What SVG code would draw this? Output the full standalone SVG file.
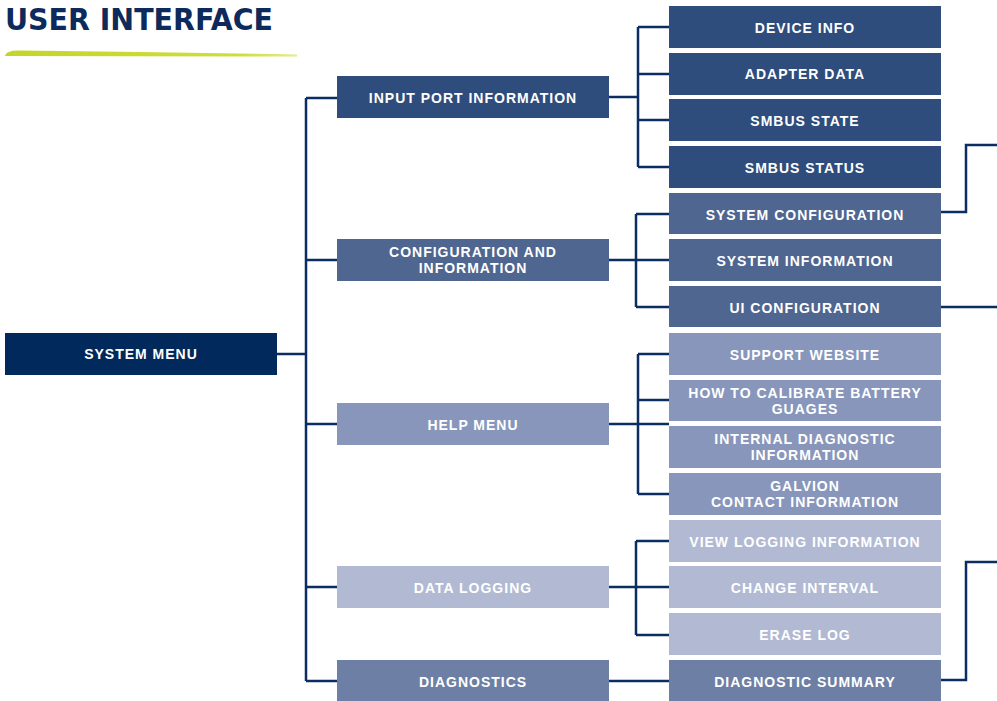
<svg xmlns="http://www.w3.org/2000/svg" width="997" height="701" viewBox="0 0 997 701">
<defs>
<linearGradient id="sw" x1="0" y1="0" x2="1" y2="0">
<stop offset="0" stop-color="#c3d52a"/>
<stop offset="0.8" stop-color="#cfdd3a"/>
<stop offset="1" stop-color="#e3eb8f"/>
</linearGradient>
</defs>
<style>
.t{font-family:"Liberation Sans",Arial,sans-serif;font-weight:700;font-size:14px;fill:#ffffff;text-anchor:middle;letter-spacing:1px}
.c{fill:none;stroke:#0b2d62;stroke-width:2.5}
.n0{fill:#01295b}
.n1{fill:#2e4d7c}
.n2{fill:#4f6690}
.n3{fill:#8896bb}
.n4{fill:#b1b9d3}
.n5{fill:#6e7fa6}
</style>
<rect width="997" height="701" fill="#ffffff"/>
<text x="5" y="29.5" font-family="'DejaVu Sans Condensed','DejaVu Sans',sans-serif" font-weight="700" font-size="31" fill="#0c2a5b" textLength="268" lengthAdjust="spacingAndGlyphs">USER INTERFACE</text>
<path d="M5,56 Q6,50 20,50.5 Q160,52 297,54.5 L297,56.5 Z" fill="url(#sw)"/>

<g id="connectors">
<path class="c" d="M277,354 H306 M306,98 V681 M306,98 H337 M306,260 H337 M306,424 H337 M306,587 H337 M306,681 H337"/>
<path class="c" d="M609,97 H638 M638,27 V167 M638,27 H669 M638,74 H669 M638,120 H669 M638,167 H669"/>
<path class="c" d="M609,260 H669 M636,214 V307 M636,214 H669 M636,307 H669"/>
<path class="c" d="M609,424 H669 M638,354 V494 M638,354 H669 M638,400 H669 M638,494 H669"/>
<path class="c" d="M609,587 H669 M636,541 V635 M636,541 H669 M636,635 H669"/>
<path class="c" d="M609,681 H669"/>
<path class="c" d="M941,212 H966 V145 H997"/>
<path class="c" d="M941,307 H997"/>
<path class="c" d="M941,680 H966 V562 H997"/>
</g>

<g id="system-menu"><rect class="n0" x="5" y="333" width="272" height="42"/><text class="t" x="141" y="359">SYSTEM MENU</text></g>

<g id="input-port-information"><rect class="n1" x="337" y="76" width="272" height="42"/><text class="t" x="473" y="102.5">INPUT PORT INFORMATION</text></g>
<g id="configuration-and-information"><rect class="n2" x="337" y="239" width="272" height="42"/><text class="t" x="473" y="257">CONFIGURATION AND<tspan x="473" dy="16.3">INFORMATION</tspan></text></g>
<g id="help-menu"><rect class="n3" x="337" y="403" width="272" height="42"/><text class="t" x="473" y="429.5">HELP MENU</text></g>
<g id="data-logging"><rect class="n4" x="337" y="566" width="272" height="42"/><text class="t" x="473" y="592.5">DATA LOGGING</text></g>
<g id="diagnostics"><rect class="n5" x="337" y="660" width="272" height="41"/><text class="t" x="473" y="686.5">DIAGNOSTICS</text></g>

<g id="device-info"><rect class="n1" x="669" y="6" width="272" height="42"/><text class="t" x="805" y="32.5">DEVICE INFO</text></g>
<g id="adapter-data"><rect class="n1" x="669" y="53" width="272" height="42"/><text class="t" x="805" y="79">ADAPTER DATA</text></g>
<g id="smbus-state"><rect class="n1" x="669" y="99" width="272" height="42"/><text class="t" x="805" y="125.5">SMBUS STATE</text></g>
<g id="smbus-status"><rect class="n1" x="669" y="146" width="272" height="42"/><text class="t" x="805" y="172.5">SMBUS STATUS</text></g>
<g id="system-configuration"><rect class="n2" x="669" y="193" width="272" height="41"/><text class="t" x="805" y="219.5">SYSTEM CONFIGURATION</text></g>
<g id="system-information"><rect class="n2" x="669" y="239" width="272" height="42"/><text class="t" x="805" y="265.5">SYSTEM INFORMATION</text></g>
<g id="ui-configuration"><rect class="n2" x="669" y="286" width="272" height="41"/><text class="t" x="805" y="312.5">UI CONFIGURATION</text></g>
<g id="support-website"><rect class="n3" x="669" y="333" width="272" height="42"/><text class="t" x="805" y="359.5">SUPPORT WEBSITE</text></g>
<g id="how-to-calibrate"><rect class="n3" x="669" y="380" width="272" height="41"/><text class="t" x="805" y="397.5">HOW TO CALIBRATE BATTERY<tspan x="805" dy="16.3">GUAGES</tspan></text></g>
<g id="internal-diagnostic"><rect class="n3" x="669" y="426" width="272" height="42"/><text class="t" x="805" y="444">INTERNAL DIAGNOSTIC<tspan x="805" dy="16.3">INFORMATION</tspan></text></g>
<g id="galvion-contact"><rect class="n3" x="669" y="473" width="272" height="42"/><text class="t" x="805" y="491">GALVION<tspan x="805" dy="16.3">CONTACT INFORMATION</tspan></text></g>
<g id="view-logging"><rect class="n4" x="669" y="520" width="272" height="42"/><text class="t" x="805" y="546.5">VIEW LOGGING INFORMATION</text></g>
<g id="change-interval"><rect class="n4" x="669" y="566" width="272" height="42"/><text class="t" x="805" y="592.5">CHANGE INTERVAL</text></g>
<g id="erase-log"><rect class="n4" x="669" y="613" width="272" height="42"/><text class="t" x="805" y="639.5">ERASE LOG</text></g>
<g id="diagnostic-summary"><rect class="n5" x="669" y="660" width="272" height="41"/><text class="t" x="805" y="686.5">DIAGNOSTIC SUMMARY</text></g>
</svg>
